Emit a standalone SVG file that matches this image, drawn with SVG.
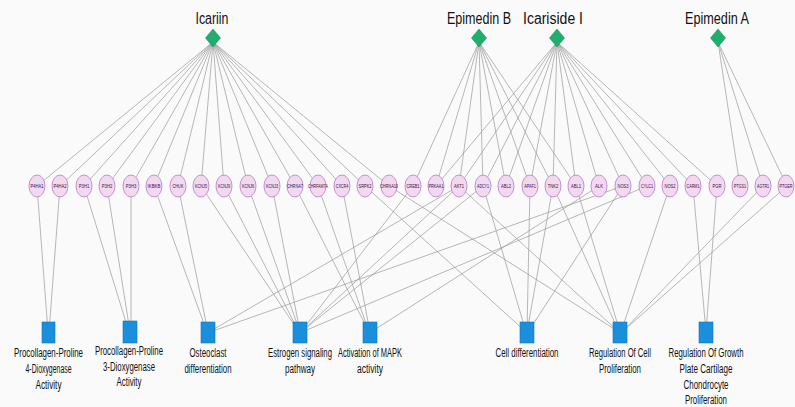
<svg xmlns="http://www.w3.org/2000/svg" width="795" height="407" viewBox="0 0 795 407">
<style>
.e{stroke:#9a9a9a;stroke-width:0.7;fill:none}
.d{fill:#1fae6e;stroke:#17965c;stroke-width:0.6}
.g{fill:#f1d9f0;stroke:#b87ac4;stroke-width:0.8}
.gt{font-family:"Liberation Sans Narrow","Liberation Sans",Arial,sans-serif;font-size:6.2px;fill:#3a0d4a;text-anchor:middle}
.b{fill:#1a8fdc;stroke:#1673b5;stroke-width:0.6}
.ct{font-family:"Liberation Sans Narrow","Liberation Sans",Arial,sans-serif;font-size:16px;fill:#111;text-anchor:middle}
.bt{font-family:"Liberation Sans Narrow","Liberation Sans",Arial,sans-serif;font-size:12px;fill:#111;text-anchor:middle}
</style>
<rect width="795" height="407" fill="#fafafa"/>
<g id="edges">
<path class="e" d="M213 42L37 186M213 42L60 186M213 42L84 186M213 42L107 186M213 42L131 186M213 42L154 186M213 42L178 186M213 42L201 186M213 42L224 186M213 42L248 186M213 42L272 186M213 42L295 186M213 42L318 186M213 42L342 186M213 42L365 186M213 42L389 186"/>
<path class="e" d="M479 42L413 186M479 42L436 186M479 42L459 186M479 42L483 186M479 42L506 186M479 42L530 186M479 42L553 186M479 42L576 186"/>
<path class="e" d="M557 42L436 186M557 42L459 186M557 42L483 186M557 42L506 186M557 42L530 186M557 42L553 186M557 42L576 186M557 42L599 186M557 42L623 186M557 42L647 186M557 42L670 186M557 42L693 186M557 42L717 186"/>
<path class="e" d="M718 42L740 186M718 42L763 186M718 42L787 186"/>
<path class="e" d="M37 186L48 332M60 186L49 332"/>
<path class="e" d="M84 186L129 332M107 186L130 332M131 186L131 332"/>
<path class="e" d="M154 186L207 332M178 186L208 332M459 186L209 332M623 186L210 332"/>
<path class="e" d="M201 186L299 332M224 186L299 332M248 186L300 332M272 186L300 332M413 186L301 332M459 186L301 332M483 186L301 332M647 186L302 332"/>
<path class="e" d="M295 186L369 332M318 186L369 332M342 186L370 332M599 186L371 332"/>
<path class="e" d="M365 186L526 332M483 186L526 332M530 186L527 332M553 186L527 332M623 186L528 332"/>
<path class="e" d="M389 186L619 332M459 186L619 332M553 186L619 332M576 186L620 332M670 186L621 332M763 186L622 332M787 186L622 332"/>
<path class="e" d="M693 186L706 332M717 186L706 332"/>
</g>
<g id="Icariin"><path class="d" d="M213 29L220.5 38L213 47L205.5 38Z"/><text class="ct" x="212" y="24" textLength="33" lengthAdjust="spacingAndGlyphs">Icariin</text></g>
<g id="EpimedinB"><path class="d" d="M479 29L486.5 38L479 47L471.5 38Z"/><text class="ct" x="479" y="24" textLength="64" lengthAdjust="spacingAndGlyphs">Epimedin B</text></g>
<g id="IcarisideI"><path class="d" d="M557 29L564.5 38L557 47L549.5 38Z"/><text class="ct" x="553" y="24" textLength="60" lengthAdjust="spacingAndGlyphs">Icariside I</text></g>
<g id="EpimedinA"><path class="d" d="M718 29L725.5 38L718 47L710.5 38Z"/><text class="ct" x="717" y="24" textLength="64" lengthAdjust="spacingAndGlyphs">Epimedin A</text></g>
<g id="P4HA1"><ellipse class="g" cx="37" cy="186" rx="8" ry="11"/><text class="gt" x="37" y="188" textLength="13" lengthAdjust="spacingAndGlyphs">P4HA1</text></g>
<g id="P4HA2"><ellipse class="g" cx="60" cy="186" rx="8" ry="11"/><text class="gt" x="60" y="188" textLength="13" lengthAdjust="spacingAndGlyphs">P4HA2</text></g>
<g id="P3H1"><ellipse class="g" cx="84" cy="186" rx="8" ry="11"/><text class="gt" x="84" y="188" textLength="10.5" lengthAdjust="spacingAndGlyphs">P3H1</text></g>
<g id="P3H2"><ellipse class="g" cx="107" cy="186" rx="8" ry="11"/><text class="gt" x="107" y="188" textLength="10.5" lengthAdjust="spacingAndGlyphs">P3H2</text></g>
<g id="P3H3"><ellipse class="g" cx="131" cy="186" rx="8" ry="11"/><text class="gt" x="131" y="188" textLength="10.5" lengthAdjust="spacingAndGlyphs">P3H3</text></g>
<g id="IKBKB"><ellipse class="g" cx="154" cy="186" rx="8" ry="11"/><text class="gt" x="154" y="188" textLength="13" lengthAdjust="spacingAndGlyphs">IKBKB</text></g>
<g id="CHUK"><ellipse class="g" cx="178" cy="186" rx="8" ry="11"/><text class="gt" x="178" y="188" textLength="11" lengthAdjust="spacingAndGlyphs">CHUK</text></g>
<g id="KCNJ5"><ellipse class="g" cx="201" cy="186" rx="8" ry="11"/><text class="gt" x="201" y="188" textLength="12" lengthAdjust="spacingAndGlyphs">KCNJ5</text></g>
<g id="KCNJ9"><ellipse class="g" cx="224" cy="186" rx="8" ry="11"/><text class="gt" x="224" y="188" textLength="12" lengthAdjust="spacingAndGlyphs">KCNJ9</text></g>
<g id="KCNJ6"><ellipse class="g" cx="248" cy="186" rx="8" ry="11"/><text class="gt" x="248" y="188" textLength="12" lengthAdjust="spacingAndGlyphs">KCNJ6</text></g>
<g id="KCNJ3"><ellipse class="g" cx="272" cy="186" rx="8" ry="11"/><text class="gt" x="272" y="188" textLength="12" lengthAdjust="spacingAndGlyphs">KCNJ3</text></g>
<g id="CHRNA7"><ellipse class="g" cx="295" cy="186" rx="8" ry="11"/><text class="gt" x="295" y="188" textLength="16" lengthAdjust="spacingAndGlyphs">CHRNA7</text></g>
<g id="CHRFAM7A"><ellipse class="g" cx="318" cy="186" rx="8" ry="11"/><text class="gt" x="318" y="188" textLength="20" lengthAdjust="spacingAndGlyphs">CHRFAM7A</text></g>
<g id="CXCR4"><ellipse class="g" cx="342" cy="186" rx="8" ry="11"/><text class="gt" x="342" y="188" textLength="12.5" lengthAdjust="spacingAndGlyphs">CXCR4</text></g>
<g id="SRPK2"><ellipse class="g" cx="365" cy="186" rx="8" ry="11"/><text class="gt" x="365" y="188" textLength="13" lengthAdjust="spacingAndGlyphs">SRPK2</text></g>
<g id="CHRNA10"><ellipse class="g" cx="389" cy="186" rx="8" ry="11"/><text class="gt" x="389" y="188" textLength="18" lengthAdjust="spacingAndGlyphs">CHRNA10</text></g>
<g id="CREB1"><ellipse class="g" cx="413" cy="186" rx="8" ry="11"/><text class="gt" x="413" y="188" textLength="13" lengthAdjust="spacingAndGlyphs">CREB1</text></g>
<g id="PRKAA1"><ellipse class="g" cx="436" cy="186" rx="8" ry="11"/><text class="gt" x="436" y="188" textLength="15" lengthAdjust="spacingAndGlyphs">PRKAA1</text></g>
<g id="AKT1"><ellipse class="g" cx="459" cy="186" rx="8" ry="11"/><text class="gt" x="459" y="188" textLength="10" lengthAdjust="spacingAndGlyphs">AKT1</text></g>
<g id="ADCY1"><ellipse class="g" cx="483" cy="186" rx="8" ry="11"/><text class="gt" x="483" y="188" textLength="12" lengthAdjust="spacingAndGlyphs">ADCY1</text></g>
<g id="ABL2"><ellipse class="g" cx="506" cy="186" rx="8" ry="11"/><text class="gt" x="506" y="188" textLength="10" lengthAdjust="spacingAndGlyphs">ABL2</text></g>
<g id="APAF1"><ellipse class="g" cx="530" cy="186" rx="8" ry="11"/><text class="gt" x="530" y="188" textLength="11.5" lengthAdjust="spacingAndGlyphs">APAF1</text></g>
<g id="TNK2"><ellipse class="g" cx="553" cy="186" rx="8" ry="11"/><text class="gt" x="553" y="188" textLength="10.5" lengthAdjust="spacingAndGlyphs">TNK2</text></g>
<g id="ABL1"><ellipse class="g" cx="576" cy="186" rx="8" ry="11"/><text class="gt" x="576" y="188" textLength="10" lengthAdjust="spacingAndGlyphs">ABL1</text></g>
<g id="ALK"><ellipse class="g" cx="599" cy="186" rx="8" ry="11"/><text class="gt" x="599" y="188" textLength="8" lengthAdjust="spacingAndGlyphs">ALK</text></g>
<g id="NOS3"><ellipse class="g" cx="623" cy="186" rx="8" ry="11"/><text class="gt" x="623" y="188" textLength="11" lengthAdjust="spacingAndGlyphs">NOS3</text></g>
<g id="CYLC1"><ellipse class="g" cx="647" cy="186" rx="8" ry="11"/><text class="gt" x="647" y="188" textLength="12" lengthAdjust="spacingAndGlyphs">CYLC1</text></g>
<g id="NOS2"><ellipse class="g" cx="670" cy="186" rx="8" ry="11"/><text class="gt" x="670" y="188" textLength="11" lengthAdjust="spacingAndGlyphs">NOS2</text></g>
<g id="CARM1"><ellipse class="g" cx="693" cy="186" rx="8" ry="11"/><text class="gt" x="693" y="188" textLength="13" lengthAdjust="spacingAndGlyphs">CARM1</text></g>
<g id="PGR"><ellipse class="g" cx="717" cy="186" rx="8" ry="11"/><text class="gt" x="717" y="188" textLength="9" lengthAdjust="spacingAndGlyphs">PGR</text></g>
<g id="PTGS1"><ellipse class="g" cx="740" cy="186" rx="8" ry="11"/><text class="gt" x="740" y="188" textLength="12" lengthAdjust="spacingAndGlyphs">PTGS1</text></g>
<g id="AGTR1"><ellipse class="g" cx="763" cy="186" rx="8" ry="11"/><text class="gt" x="763" y="188" textLength="12" lengthAdjust="spacingAndGlyphs">AGTR1</text></g>
<g id="PTGER"><ellipse class="g" cx="786" cy="186" rx="8" ry="11"/><text class="gt" x="786" y="188" textLength="13" lengthAdjust="spacingAndGlyphs">PTGER</text></g>
<g id="T1"><rect class="b" x="42" y="322" width="13" height="21"/><text class="bt" x="48.5" y="357" textLength="69" lengthAdjust="spacingAndGlyphs">Procollagen-Proline</text><text class="bt" x="48.5" y="373" textLength="46" lengthAdjust="spacingAndGlyphs">4-Dioxygenase</text><text class="bt" x="48.5" y="389" textLength="26" lengthAdjust="spacingAndGlyphs">Activity</text></g>
<g id="T2"><rect class="b" x="123" y="321" width="14" height="22"/><text class="bt" x="129" y="355" textLength="68" lengthAdjust="spacingAndGlyphs">Procollagen-Proline</text><text class="bt" x="129" y="371" textLength="52" lengthAdjust="spacingAndGlyphs">3-Dioxygenase</text><text class="bt" x="129" y="386" textLength="25" lengthAdjust="spacingAndGlyphs">Activity</text></g>
<g id="T3"><rect class="b" x="201" y="322" width="14" height="21"/><text class="bt" x="208" y="357" textLength="37" lengthAdjust="spacingAndGlyphs">Osteoclast</text><text class="bt" x="208" y="373" textLength="47" lengthAdjust="spacingAndGlyphs">differentiation</text></g>
<g id="T4"><rect class="b" x="293" y="322" width="14" height="21"/><text class="bt" x="300" y="357" textLength="64" lengthAdjust="spacingAndGlyphs">Estrogen signaling</text><text class="bt" x="300" y="373" textLength="30" lengthAdjust="spacingAndGlyphs">pathway</text></g>
<g id="T5"><rect class="b" x="363" y="322" width="14" height="21"/><text class="bt" x="370" y="357" textLength="64" lengthAdjust="spacingAndGlyphs">Activation of MAPK</text><text class="bt" x="370" y="373" textLength="26" lengthAdjust="spacingAndGlyphs">activity</text></g>
<g id="T6"><rect class="b" x="520" y="322" width="14" height="21"/><text class="bt" x="527" y="357" textLength="63" lengthAdjust="spacingAndGlyphs">Cell differentiation</text></g>
<g id="T7"><rect class="b" x="613" y="322" width="14" height="21"/><text class="bt" x="620" y="357" textLength="62" lengthAdjust="spacingAndGlyphs">Regulation Of Cell</text><text class="bt" x="620" y="373" textLength="42" lengthAdjust="spacingAndGlyphs">Proliferation</text></g>
<g id="T8"><rect class="b" x="699" y="322" width="14" height="21"/><text class="bt" x="706" y="357" textLength="75" lengthAdjust="spacingAndGlyphs">Regulation Of Growth</text><text class="bt" x="706" y="373" textLength="53" lengthAdjust="spacingAndGlyphs">Plate Cartilage</text><text class="bt" x="706" y="389" textLength="45" lengthAdjust="spacingAndGlyphs">Chondrocyte</text><text class="bt" x="706" y="404" textLength="42" lengthAdjust="spacingAndGlyphs">Proliferation</text></g>
</svg>
